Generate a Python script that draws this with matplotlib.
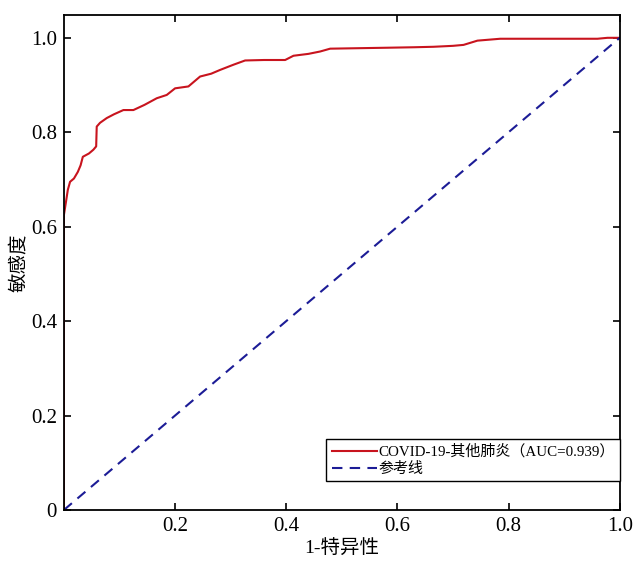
# ROC curve: COVID-19 vs other pneumonia
import matplotlib.pyplot as plt

plt.rcParams['font.family'] = ['Liberation Serif', 'Noto Sans CJK SC']

# ROC points (1-specificity, sensitivity)
fpr = [0.0, 0.0, 0.004, 0.007, 0.011, 0.018, 0.025, 0.030, 0.034, 0.045, 0.053,
       0.058, 0.059, 0.065, 0.077, 0.090, 0.107, 0.125, 0.145, 0.167, 0.185,
       0.200, 0.224, 0.245, 0.265, 0.281, 0.305, 0.326, 0.360, 0.398, 0.413,
       0.440, 0.461, 0.479, 0.530, 0.582, 0.630, 0.665, 0.700, 0.719, 0.744,
       0.785, 0.850, 0.900, 0.960, 0.978, 1.0]
tpr = [0.0, 0.625, 0.655, 0.678, 0.695, 0.702, 0.716, 0.730, 0.748, 0.755, 0.763,
       0.770, 0.812, 0.820, 0.830, 0.838, 0.847, 0.847, 0.858, 0.872, 0.879,
       0.893, 0.897, 0.918, 0.924, 0.932, 0.943, 0.952, 0.953, 0.953, 0.962,
       0.966, 0.971, 0.977, 0.978, 0.979, 0.980, 0.981, 0.983, 0.985, 0.994,
       0.998, 0.998, 0.998, 0.998, 1.0, 1.0]
ref_x = [0.0, 1.0]
ref_y = [0.0, 1.0]

auc_label = 'COVID-19-其他肺炎（AUC=0.939）'
ref_label = '参考线'

fig = plt.figure(figsize=(6.33, 5.61), dpi=100)
ax = fig.add_axes([0.101, 0.091, 0.878, 0.882])

ax.plot(fpr, tpr, color='#c8141e', lw=1.5, label=auc_label)
ax.plot(ref_x, ref_y, color='#1c1c96', lw=1.5, ls=(0, (5, 3.5)), label=ref_label)

ax.set_xlim(0, 1.0)
ax.set_ylim(0, 1.048)
ax.set_xticks([0.2, 0.4, 0.6, 0.8, 1.0])
ax.set_xticklabels(['0.2', '0.4', '0.6', '0.8', '1.0'])
ax.set_yticks([0, 0.2, 0.4, 0.6, 0.8, 1.0])
ax.set_yticklabels(['0', '0.2', '0.4', '0.6', '0.8', '1.0'])
ax.tick_params(direction='in', length=5, width=1.2, top=True, right=True,
               labelsize=15, pad=5)
for s in ax.spines.values():
    s.set_linewidth(1.3)

ax.set_xlabel('1-特异性', fontsize=14, labelpad=3)
ax.set_ylabel('敏感度', fontsize=14, labelpad=2)

leg = ax.legend(loc='lower right', bbox_to_anchor=(1.0, 0.058), borderaxespad=0,
                fontsize=10.8, fancybox=False, framealpha=1, edgecolor='black',
                handlelength=3.0, handletextpad=0.1, borderpad=0.35,
                labelspacing=0.2)
leg.get_frame().set_linewidth(1.0)

fig.savefig('out.png', dpi=100)
